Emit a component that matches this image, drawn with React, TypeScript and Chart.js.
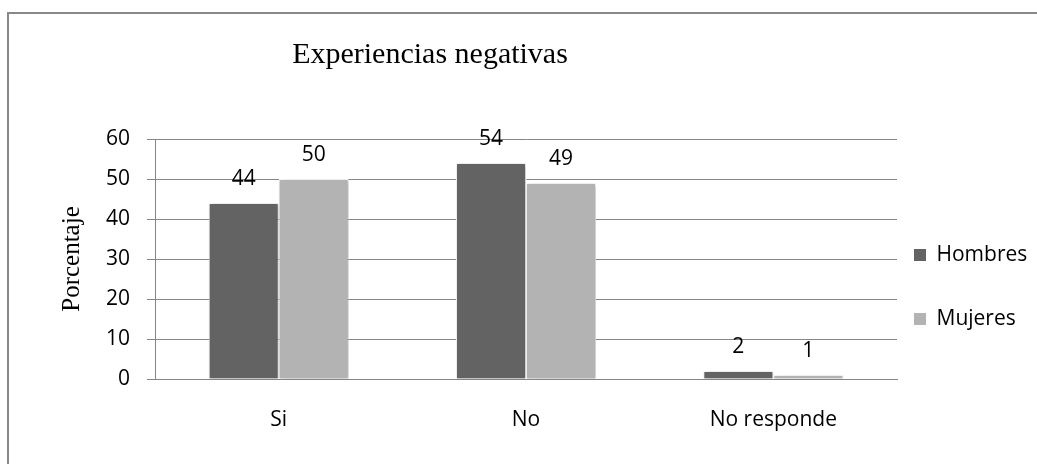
import React, { useEffect, useRef } from "react";
import { Chart, registerables } from "chart.js";

Chart.register(...registerables);

const categories = ["Si", "No", "No responde"];
const hombres = [44, 54, 2];
const mujeres = [50, 49, 1];
const yTicks = [0, 10, 20, 30, 40, 50, 60];
const seriesNames = ["Hombres", "Mujeres"];
const chartTitle = "Experiencias negativas";
const yAxisTitle = "Porcentaje";

const SANS = "'Open Sans', sans-serif";
const SERIF = "'Liberation Serif', 'Times New Roman', serif";
const GRID = "#868686";
const DARK = "#636363";
const LIGHT = "#b3b3b3";

const layoutTweak = {
  id: "layoutTweak",
  afterLayout(chart: any) {
    const t = chart.titleBlock;
    if (t) {
      t.left = 0;
      t.right = 860;
    }
    const l = chart.legend;
    if (l) {
      l.left -= 26;
      l.width += 26;
      l.top += 55;
      l.bottom += 55;
    }
  },
};

const barShadow = {
  id: "barShadow",
  beforeDatasetsDraw(chart: any) {
    const ctx = chart.ctx;
    ctx.save();
    ctx.shadowColor = "rgba(0,0,0,0.3)";
    ctx.shadowBlur = 4;
    ctx.shadowOffsetX = 1;
    ctx.shadowOffsetY = 1;
  },
  afterDatasetsDraw(chart: any) {
    chart.ctx.restore();
  },
};

const valueLabels = {
  id: "valueLabels",
  afterDatasetsDraw(chart: any) {
    const ctx = chart.ctx;
    ctx.save();
    ctx.font = `21px ${SANS}`;
    ctx.fillStyle = "#000";
    ctx.textAlign = "center";
    ctx.textBaseline = "middle";
    chart.data.datasets.forEach((ds: any, i: number) => {
      const meta = chart.getDatasetMeta(i);
      meta.data.forEach((el: any, j: number) => {
        ctx.fillText(String(ds.data[j]), el.x, el.y - 24);
      });
    });
    ctx.restore();
  },
};

export default function App() {
  const ref = useRef<HTMLCanvasElement | null>(null);

  useEffect(() => {
    if (!ref.current) return;
    const chart = new Chart(ref.current, {
      type: "bar",
      data: {
        labels: categories,
        datasets: [
          {
            label: seriesNames[0],
            data: hombres,
            backgroundColor: DARK,
            borderColor: "#ffffff",
            borderWidth: 1,
            categoryPercentage: 0.566,
            barPercentage: 1,
          },
          {
            label: seriesNames[1],
            data: mujeres,
            backgroundColor: LIGHT,
            borderColor: "#ffffff",
            borderWidth: 1,
            categoryPercentage: 0.566,
            barPercentage: 1,
          },
        ],
      },
      options: {
        responsive: false,
        animation: false,
        layout: { padding: 0 },
        plugins: {
          title: {
            display: true,
            text: chartTitle,
            color: "#000",
            font: { family: SERIF, size: 30, weight: "normal" },
            padding: { top: 37, bottom: 66 },
          },
          legend: {
            position: "right",
            maxWidth: 140,
            labels: {
              color: "#000",
              font: { family: SANS, size: 21 },
              boxWidth: 12,
              boxHeight: 12,
              padding: 43,
              generateLabels: (c: any) =>
                Chart.defaults.plugins.legend.labels
                  .generateLabels(c)
                  .map((it: any) => ({ ...it, lineWidth: 0 })),
            },
          },
          tooltip: { enabled: false },
        },
        scales: {
          x: {
            grid: { display: false, drawTicks: false, tickLength: 0 },
            border: { display: true, color: GRID },
            ticks: {
              color: "#000",
              font: { family: SANS, size: 21 },
              padding: 28,
              maxRotation: 0,
            },
            afterFit: (s: any) => {
              s.height = 85;
            },
          },
          y: {
            min: 0,
            max: 60,
            afterBuildTicks: (s: any) => {
              s.ticks = yTicks.map((v) => ({ value: v }));
            },
            ticks: {
              color: "#000",
              font: { family: SANS, size: 21 },
              padding: 17,
            },
            grid: { color: GRID, tickLength: 8, drawTicks: true },
            border: { display: true, color: GRID },
            title: {
              display: true,
              text: yAxisTitle,
              color: "#000",
              font: { family: SERIF, size: 25 },
              padding: { top: 57, bottom: 0 },
            },
            afterFit: (s: any) => {
              s.width = 155;
            },
          },
        },
      },
      plugins: [layoutTweak, barShadow, valueLabels],
    } as any);
    return () => chart.destroy();
  }, []);

  return (
    <div style={{ position: "absolute", left: 0, top: 0, width: 1037, height: 464, background: "#fff" }}>
      <canvas ref={ref} width={1037} height={464} style={{ display: "block" }} />
      <div
        style={{
          position: "absolute",
          left: 7,
          top: 12,
          width: 1040,
          height: 460,
          borderTop: "2px solid #898989",
          borderLeft: "2px solid #898989",
          pointerEvents: "none",
        }}
      />
    </div>
  );
}
